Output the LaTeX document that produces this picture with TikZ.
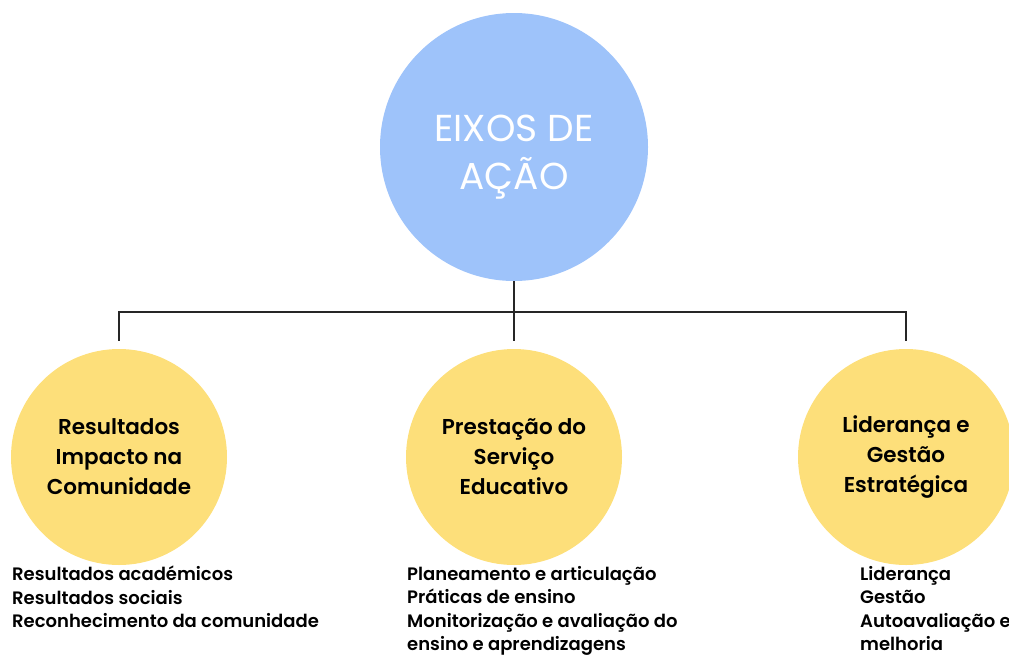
\documentclass[tikz,border=0pt]{standalone}
\usepackage{fontspec}
\setmainfont{Poppins}
\newfontfamily\medfont{Poppins SemiBold}
\usepackage{tikz}
\usetikzlibrary{positioning}
\definecolor{eixoblue}{RGB}{158,195,250}
\definecolor{eixoyellow}{RGB}{253,223,122}
\tikzset{
    eixo/.style={circle, fill=eixoblue, minimum size=268pt, inner sep=0pt},
    eixotext/.style={text=white, align=center, font=\fontsize{37.5}{48}\selectfont},
    area/.style={circle, fill=eixoyellow, minimum size=216pt, inner sep=0pt, align=center, font=\medfont\fontsize{21.5}{30}\selectfont},
    items/.style={anchor=north west, inner sep=0pt, align=left, font=\medfont\fontsize{18}{23.5}\selectfont},
    link/.style={line width=1.6pt, black!85}
}
\begin{document}
\begin{tikzpicture}[x=1pt, y=-1pt]
    \useasboundingbox (0,0) rectangle (1009,657);
    \clip (0,0) rectangle (1009,657);
    % Main circle
    \node[eixo] (eixos) at (514,147) {};
    \node[eixotext] (eixostext) at (514,157) {EIXOS DE\\AÇÃO};

    % The three areas
    \node[area] (res) at (119,457) {Resultados\\Impacto na\\Comunidade};
    \node[area] (pse) at (514,457) {Prestação do\\Serviço\\Educativo};
    \node[area] (lid) at (906,457) {Liderança e\\Gestão\\Estratégica};

    % Connectors
    \coordinate (hub) at (514,312);
    \draw[link] (eixos.south) -- (hub);
    \draw[link] ([yshift=8pt]res.north) |- (hub) -| ([yshift=8pt]lid.north);
    \draw[link] (hub) -- ([yshift=8pt]pse.north);

    % Items under each area
    \node[items] (resitems) at (12,566) {Resultados académicos\\Resultados sociais\\Reconhecimento da comunidade};
    \node[items] (pseitems) at (407,566) {Planeamento e articulação\\Práticas de ensino\\Monitorização e avaliação do\\ensino e aprendizagens};
    \node[items] (liditems) at (860,566) {Liderança\\Gestão\\Autoavaliação e\\melhoria};
\end{tikzpicture}
\end{document}
